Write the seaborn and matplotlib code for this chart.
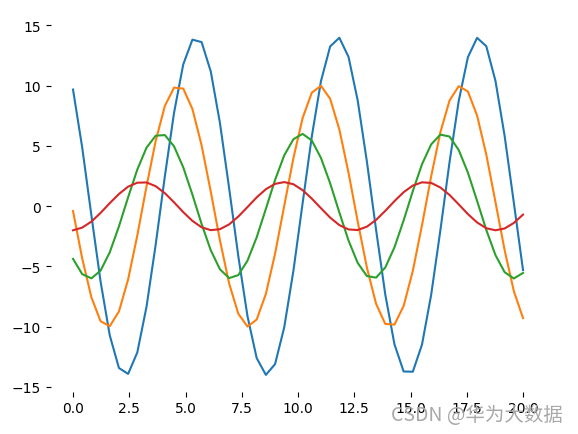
import numpy as np
import pandas as pd
import matplotlib
matplotlib.use("Agg")
import matplotlib.pyplot as plt
import seaborn as sns

x_values = list(np.linspace(0, 20, 50))

blue = [9.68, 4.87, -0.76, -6.25, -10.72, -13.43, -13.92, -12.14, -8.36, -3.20,
        2.48, 7.75, 11.76, 13.82, 13.62, 11.18, 6.90, 1.49, -4.16, -9.14,
        -12.61, -14.00, -13.11, -10.05, -5.35, 0.24, 5.78, 10.38, 13.26, 13.98,
        12.39, 8.77, 3.70, -1.96, -7.32, -11.46, -13.72, -13.74, -11.49, -7.35,
        -2.01, 3.66, 8.74, 12.37, 13.97, 13.28, 10.40, 5.82, 0.29, -5.30]

orange = [-0.40, -4.34, -7.56, -9.55, -9.96, -8.74, -6.08, -2.43, 1.63, 5.41,
          8.32, 9.84, 9.76, 8.07, 5.05, 1.21, -2.84, -6.42, -8.93, -9.99,
          -9.41, -7.28, -3.95, 0.03, 4.00, 7.31, 9.42, 9.99, 8.91, 6.37,
          2.78, -1.27, -5.10, -8.10, -9.77, -9.83, -8.28, -5.37, -1.58, 2.48,
          6.13, 8.77, 9.96, 9.52, 7.52, 4.29, 0.34, -3.66, -7.05, -9.29]

green = [-4.37, -5.64, -5.99, -5.35, -3.83, -1.68, 0.74, 3.04, 4.85, 5.85,
         5.90, 4.97, 3.23, 0.96, -1.47, -3.66, -5.24, -5.97, -5.72, -4.52,
         -2.58, -0.22, 2.18, 4.22, 5.56, 6.00, 5.45, 4.00, 1.90, -0.52,
         -2.85, -4.71, -5.80, -5.93, -5.09, -3.42, -1.18, 1.25, 3.48, 5.13,
         5.94, 5.78, 4.66, 2.78, 0.44, -1.97, -4.06, -5.48, -6.00, -5.54]

red = [-2.00, -1.78, -1.28, -0.56, 0.25, 1.01, 1.62, 1.95, 1.97, 1.66,
       1.08, 0.32, -0.49, -1.22, -1.75, -1.99, -1.91, -1.51, -0.86, -0.07,
       0.73, 1.41, 1.85, 2.00, 1.82, 1.33, 0.63, -0.17, -0.95, -1.57,
       -1.93, -1.98, -1.70, -1.14, -0.39, 0.42, 1.16, 1.71, 1.98, 1.93,
       1.55, 0.93, 0.15, -0.66, -1.35, -1.83, -2.00, -1.85, -1.39, -0.70]

series_names = ["s1", "s2", "s3", "s4"]
series_values = [blue, orange, green, red]

x_ticks = [0.0, 2.5, 5.0, 7.5, 10.0, 12.5, 15.0, 17.5, 20.0]
y_ticks = [-15, -10, -5, 0, 5, 10, 15]

rows = []
for name, vals in zip(series_names, series_values):
    for xv, yv in zip(x_values, vals):
        rows.append({"x": xv, "y": yv, "series": name})
df = pd.DataFrame(rows)

fig = plt.figure(figsize=(5.78, 4.35), dpi=100)
ax = fig.add_axes([0.0874, 0.0972, 0.8564, 0.8525])
sns.lineplot(data=df, x="x", y="y", hue="series", palette="tab10",
             legend=False, ax=ax, linewidth=1.5)
ax.set_xticks(x_ticks)
ax.set_yticks(y_ticks)
ax.set_xlabel("")
ax.set_ylabel("")
sns.despine(ax=ax, left=True, bottom=True)

fig.text(0.974, 0.0444, "CSDN @华为大数据", ha="right", va="center",
         fontsize=14, color="#a8a8a8",
         family=["Noto Sans CJK SC", "DejaVu Sans"])

fig.savefig("out.png", dpi=100)
